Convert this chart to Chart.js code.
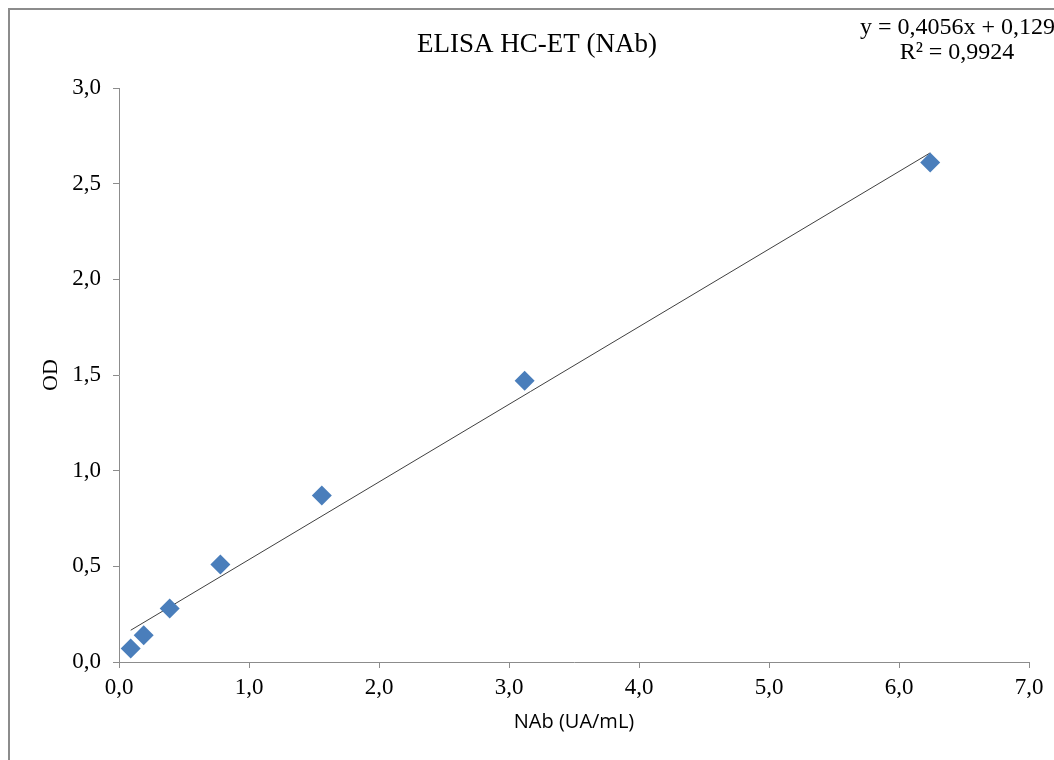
<!DOCTYPE html>
<html>
<head>
<meta charset="utf-8">
<script src="https://cdn.jsdelivr.net/npm/chart.js@4.4.0/dist/chart.umd.min.js"></script>
<style>
  html, body { margin: 0; padding: 0; background: #fff; }
  #wrap { width: 1054px; height: 760px; position: relative; }
</style>
</head>
<body>
<div id="wrap"><canvas id="chart"></canvas></div>
<script>
// values
const nab = [0.09, 0.19, 0.39, 0.78, 1.56, 3.12, 6.24];
const od = [0.07, 0.14, 0.28, 0.51, 0.87, 1.47, 2.61];
const trendX = [0.09, 6.24];
const trendY = [0.166, 2.661];
const yTicks = [0, 0.5, 1, 1.5, 2, 2.5, 3];
const xTicks = [0, 1, 2, 3, 4, 5, 6, 7];
const titleText = 'ELISA HC-ET (NAb)';
const eqText = ['y = 0,4056x + 0,1297', 'R\u00b2 = 0,9924'];

const fmt = v => v.toFixed(1).replace('.', ',');

const frame = {
  id: 'frame',
  beforeDraw(chart) {
    const c = chart.ctx;
    c.save();
    c.fillStyle = '#fff';
    c.fillRect(0, 0, chart.width, chart.height);
    c.strokeStyle = '#8c8c8c';
    c.lineWidth = 2;
    c.strokeRect(9, 9, chart.width + 20, chart.height + 20);
    c.restore();
  },
  afterDraw(chart) {
    const c = chart.ctx;
    c.save();
    c.fillStyle = '#000';
    c.textBaseline = 'middle';
    c.textAlign = 'center';
    c.font = '27px "Liberation Serif"';
    c.fillText(titleText, 537, 45);
    c.font = '24px "Liberation Serif"';
    c.textAlign = 'left';
    c.fillText(eqText[0], 860, 28);
    c.textAlign = 'center';
    c.fillText(eqText[1], 957, 53);
    c.restore();
  }
};

new Chart(document.getElementById('chart'), {
  type: 'scatter',
  data: {
    datasets: [{
      data: nab.map((x, i) => ({ x: x, y: od[i] })),
      pointStyle: 'rectRot',
      pointRadius: 10,
      pointHoverRadius: 10,
      backgroundColor: '#4a7ebb',
      borderColor: '#4a7ebb',
      borderWidth: 0,
      order: 1
    }, {
      type: 'line',
      data: trendX.map((x, i) => ({ x: x, y: trendY[i] })),
      borderColor: '#404040',
      borderWidth: 1,
      pointRadius: 0,
      fill: false,
      order: 2
    }]
  },
  options: {
    responsive: true,
    maintainAspectRatio: false,
    animation: false,
    events: [],
    layout: { padding: { top: 88, right: 25, left: 38, bottom: 26 } },
    plugins: { legend: { display: false }, tooltip: { enabled: false }, title: { display: false } },
    scales: {
      x: {
        type: 'linear',
        min: 0, max: 7,
        afterBuildTicks: s => { s.ticks = xTicks.map(v => ({ value: v })); },
        afterFit: s => { s.height = 72; },
        grid: { drawOnChartArea: false, drawTicks: true, tickLength: 6, color: '#8c8c8c' },
        border: { color: '#8c8c8c', width: 1 },
        ticks: { callback: v => fmt(v), color: '#000', padding: 6, font: { family: 'Liberation Serif', size: 23 } },
        title: { display: true, text: 'NAb (UA/mL)', color: '#000', padding: 0, font: { family: 'Open Sans', size: 20 } }
      },
      y: {
        type: 'linear',
        min: 0, max: 3,
        afterBuildTicks: s => { s.ticks = yTicks.map(v => ({ value: v })); },
        afterFit: s => { s.width = 81; },
        grid: { drawOnChartArea: false, drawTicks: true, tickLength: 6, color: '#8c8c8c' },
        border: { color: '#8c8c8c', width: 1 },
        ticks: { callback: v => fmt(v), color: '#000', padding: 12, font: { family: 'Liberation Serif', size: 23 } },
        title: { display: true, text: 'OD', color: '#000', padding: 0, font: { family: 'Liberation Serif', size: 22 } }
      }
    }
  },
  plugins: [frame]
});
</script>
</body>
</html>
